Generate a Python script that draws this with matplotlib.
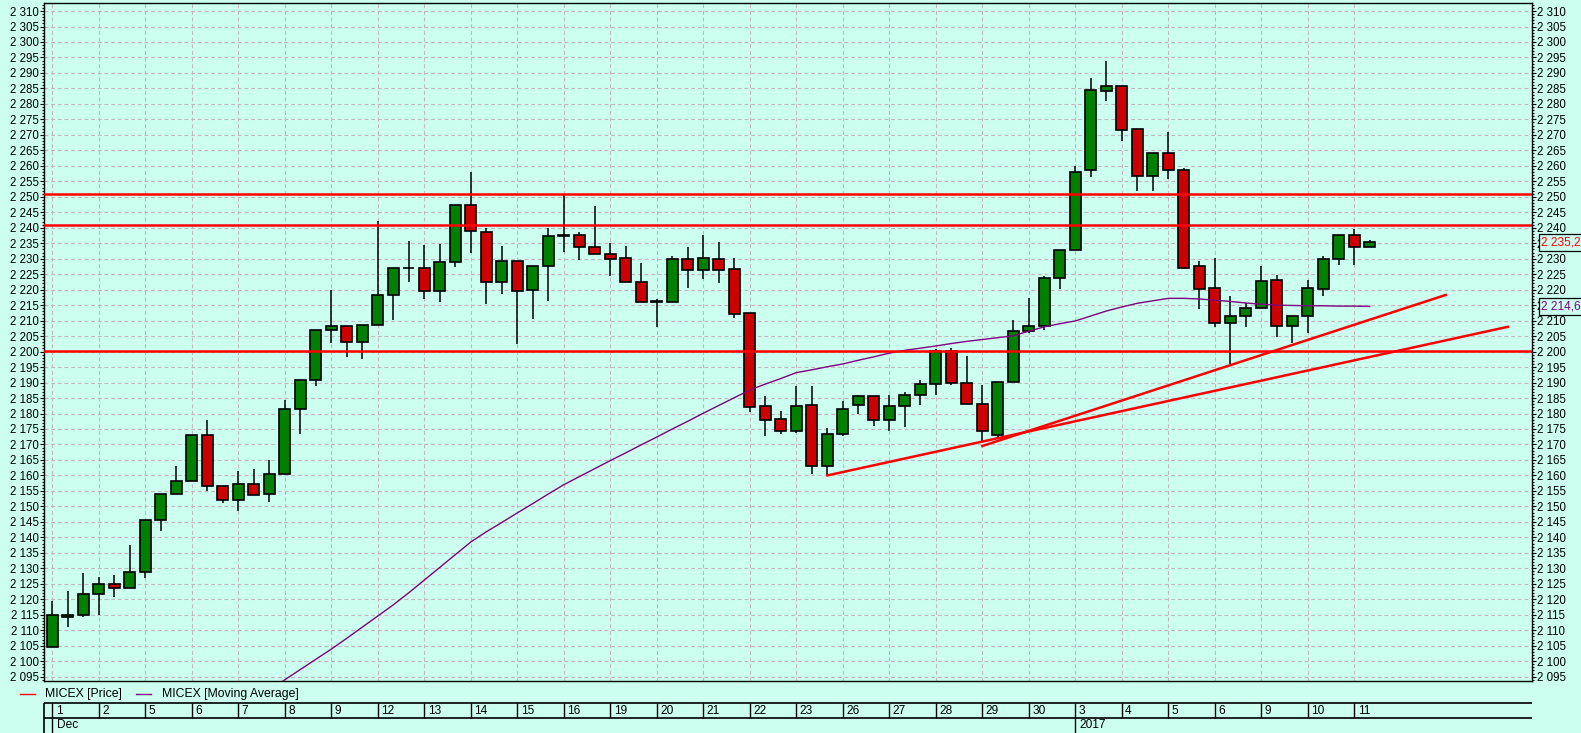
# MICEX candlestick chart, Dec 2016 - Jan 2017
import matplotlib
matplotlib.use('Agg')
import matplotlib.pyplot as plt
from matplotlib.ticker import MultipleLocator, FuncFormatter
from matplotlib.lines import Line2D

# ---- data (3 candles per trading day) ----
opens = [2104.7, 2114.2, 2115.0, 2121.8, 2125.0, 2123.7, 2128.9, 2145.7, 2154.1, 2158.3,
         2173.2, 2156.7, 2152.2, 2157.3, 2154.1, 2160.6, 2181.6, 2190.9, 2207.1, 2208.2,
         2203.0, 2208.5, 2218.2, 2226.9, 2226.9, 2219.5, 2228.8, 2247.3, 2238.5, 2222.4,
         2229.2, 2219.8, 2227.6, 2237.2, 2237.6, 2233.7, 2231.4, 2230.1, 2222.4, 2216.1,
         2216.1, 2229.8, 2226.5, 2229.8, 2226.6, 2212.4, 2182.3, 2178.1, 2174.5, 2182.7,
         2162.9, 2173.3, 2182.6, 2185.6, 2177.8, 2182.3, 2185.9, 2189.5, 2200.3, 2189.9,
         2183.0, 2172.9, 2190.3, 2206.5, 2208.2, 2223.7, 2232.7, 2258.6, 2284.3, 2285.7,
         2271.8, 2256.8, 2264.0, 2258.6, 2227.6, 2220.5, 2209.1, 2211.4, 2214.0, 2223.0,
         2208.2, 2211.4, 2220.1, 2229.8, 2237.6, 2233.7]
highs = [2119.3, 2122.8, 2128.4, 2127.2, 2127.7, 2137.4, 2145.7, 2154.1, 2162.9, 2173.2,
         2177.8, 2156.7, 2161.3, 2162.2, 2164.9, 2184.3, 2190.9, 2207.1, 2219.8, 2208.2,
         2208.5, 2242.2, 2226.9, 2235.7, 2234.4, 2234.8, 2247.3, 2258.0, 2239.8, 2234.1,
         2229.2, 2227.6, 2239.8, 2250.7, 2238.6, 2247.0, 2235.0, 2234.0, 2228.5, 2216.9,
         2230.9, 2233.9, 2237.5, 2235.4, 2230.2, 2212.4, 2185.7, 2180.8, 2188.9, 2188.9,
         2175.2, 2184.1, 2186.0, 2185.6, 2186.0, 2187.0, 2190.9, 2200.9, 2201.2, 2198.6,
         2189.2, 2190.1, 2210.2, 2217.3, 2224.4, 2232.7, 2260.0, 2288.4, 2293.9, 2285.7,
         2271.8, 2264.0, 2270.9, 2259.3, 2229.3, 2230.2, 2218.0, 2215.6, 2227.7, 2224.8,
         2211.4, 2223.1, 2230.8, 2237.6, 2239.6, 2236.1]
lows = [2104.7, 2111.2, 2114.2, 2114.8, 2120.7, 2123.7, 2127.0, 2142.0, 2154.1, 2158.3,
        2155.0, 2151.1, 2148.5, 2153.8, 2151.4, 2160.6, 2173.4, 2188.9, 2202.8, 2198.4,
        2197.7, 2208.5, 2210.2, 2222.6, 2217.1, 2216.1, 2227.4, 2232.0, 2215.5, 2218.7,
        2202.6, 2210.5, 2216.5, 2232.3, 2229.7, 2231.4, 2224.5, 2222.4, 2215.9, 2207.9,
        2216.1, 2220.7, 2223.5, 2222.3, 2211.0, 2180.5, 2172.6, 2173.4, 2173.8, 2160.6,
        2160.0, 2172.6, 2180.0, 2176.1, 2174.2, 2175.8, 2182.9, 2186.1, 2189.3, 2183.0,
        2170.9, 2172.0, 2190.3, 2206.0, 2207.1, 2220.3, 2232.7, 2256.5, 2281.1, 2268.1,
        2252.0, 2252.0, 2255.9, 2226.8, 2213.9, 2208.1, 2196.0, 2207.8, 2214.0, 2204.8,
        2202.7, 2206.1, 2217.8, 2228.1, 2228.1, 2233.7]
closes = [2114.8, 2115.0, 2121.8, 2125.0, 2123.7, 2128.9, 2145.7, 2154.1, 2158.3, 2173.2,
          2156.6, 2152.2, 2157.3, 2153.8, 2160.6, 2181.6, 2190.9, 2207.1, 2208.4, 2203.0,
          2208.5, 2218.2, 2226.9, 2226.9, 2219.5, 2228.8, 2247.3, 2238.9, 2222.6, 2229.2,
          2219.5, 2227.6, 2237.2, 2237.6, 2233.7, 2231.4, 2229.8, 2222.4, 2215.9, 2216.3,
          2229.8, 2226.5, 2230.1, 2226.5, 2212.3, 2182.2, 2178.0, 2174.5, 2182.3, 2162.9,
          2173.3, 2181.4, 2185.6, 2177.8, 2182.3, 2185.9, 2189.5, 2200.3, 2189.7, 2183.0,
          2174.2, 2190.1, 2206.6, 2208.2, 2223.7, 2232.7, 2257.9, 2284.4, 2285.7, 2271.5,
          2256.8, 2264.0, 2258.8, 2227.1, 2220.3, 2209.1, 2211.4, 2214.0, 2222.7, 2208.2,
          2211.4, 2220.5, 2229.8, 2237.6, 2233.7, 2235.27]

# moving average (starts at candle 14, earlier part below the chart)
ma_start = 14
ma_values = [2090.7, 2094.0, 2097.3, 2100.6, 2103.9, 2107.4, 2111.0, 2114.6, 2118.2, 2122.1,
             2126.2, 2130.3, 2134.4, 2138.5, 2141.8, 2144.8, 2147.9, 2150.9, 2154.0, 2157.0,
             2159.6, 2162.2, 2164.8, 2167.3, 2169.9, 2172.4, 2175.0, 2177.5, 2180.1, 2182.6,
             2185.1, 2187.6, 2189.5, 2191.3, 2193.2, 2194.1, 2195.1, 2196.0, 2197.2, 2198.3,
             2199.5, 2200.4, 2201.1, 2201.8, 2202.6, 2203.3, 2203.9, 2204.5, 2205.1, 2206.6,
             2208.0, 2209.0, 2209.9, 2211.5, 2213.1, 2214.4, 2215.6, 2216.4, 2217.2, 2217.2,
             2217.0, 2216.6, 2216.2, 2215.7, 2215.3, 2215.0, 2214.9, 2214.8, 2214.8, 2214.7,
             2214.7, 2214.62]

# horizontal levels and trend lines (candle index, price)
levels = [2251.0, 2241.0, 2200.3]
trend_lines = [(50, 2160.0, 93.9, 2208.0),
               (60, 2169.5, 89.9, 2218.3)]

# day labels, one per 3 candles
days = ['1', '2', '5', '6', '7', '8', '9', '12', '13', '14', '15', '16', '19', '20', '21',
        '22', '23', '26', '27', '28', '29', '30', '3', '4', '5', '6', '9', '10', '11']
months = [('Dec', 0), ('2017', 22)]   # label, index of first day

bg = '#ccfff0'
grid_c = '#c4b8bc'
W, H = 1581, 733

plt.rcParams['font.family'] = ['Liberation Sans', 'DejaVu Sans']
fig = plt.figure(figsize=(W / 100, H / 100), dpi=100, facecolor=bg)

L, R, T, B = 44.3, 1532, 3.3, 681
ax = fig.add_axes([L / W, 1 - B / H, (R - L) / W, (B - T) / H])
ax.set_facecolor(bg)
x0 = (L - 52.3) / 15.5
x1 = (R - 52.3) / 15.5
ax.set_xlim(x0, x1)
ax.set_ylim(2093.6, 2312.5)

# grid
for v in range(2095, 2311, 5):
    ax.axhline(v, color=grid_c, lw=0.8, dashes=(3.5, 2.5), zorder=0)
for k in range(len(days)):
    ax.axvline(3 * k, color=grid_c, lw=0.8, dashes=(3.5, 2.5), zorder=0)

# candles
n = len(opens)
idx = list(range(n))
ax.vlines(idx, lows, highs, color='black', lw=1.1, zorder=2)
bottoms = [min(o, c) for o, c in zip(opens, closes)]
heights = [abs(c - o) for o, c in zip(opens, closes)]
cols = ['#008000' if c >= o else '#cc0000' for o, c in zip(opens, closes)]
ax.bar(idx, heights, bottom=bottoms, width=0.7, color=cols, edgecolor='black',
       linewidth=1.2, zorder=3)

# moving average
ax.plot(range(ma_start, ma_start + len(ma_values)), ma_values, color='#800080', lw=1.0, zorder=4)

# red levels and trend lines
for lv in levels:
    ax.axhline(lv, color='#ff0000', lw=1.8, zorder=5)
for xa, ya, xb, yb in trend_lines:
    ax.plot([xa, xb], [ya, yb], color='#ff0000', lw=1.8, zorder=5)

# axes / ticks
for s in ax.spines.values():
    s.set_linewidth(1.0)
ax.set_xticks([])
ax.yaxis.set_major_locator(MultipleLocator(5))
ax.yaxis.set_minor_locator(MultipleLocator(1))
ax.yaxis.set_major_formatter(FuncFormatter(lambda v, p: f'{int(round(v)):,}'.replace(',', ' ')))
ax.yaxis.set_ticks_position('both')
ax.tick_params(axis='y', which='major', length=3.2, width=0.8, labelsize=8.3,
               labelleft=True, labelright=True, pad=0.5)
ax.tick_params(axis='y', which='minor', length=1.6, width=0.8)

# last values on the right (boxes cover the tick labels behind them)
tr = ax.get_yaxis_transform()
ax.text(1.006, closes[-1], '2 235,27', transform=tr, color='#ff0000', fontsize=8.6,
        ha='left', va='center', clip_on=False, zorder=20,
        bbox=dict(boxstyle='square,pad=0.2', fc=bg, ec='black', lw=0.9))
ax.text(1.006, ma_values[-1], '2 214,62', transform=tr, color='#800080', fontsize=8.6,
        ha='left', va='center', clip_on=False, zorder=20,
        bbox=dict(boxstyle='square,pad=0.2', fc=bg, ec='black', lw=0.9))

# legend
ly = 1 - 694 / H
fig.add_artist(Line2D([20 / W, 35 / W], [ly, ly], color='#ff0000', lw=1.0))
fig.text(45 / W, ly, 'MICEX [Price]', fontsize=8.8, va='center', ha='left')
fig.add_artist(Line2D([136 / W, 151 / W], [ly, ly], color='#800080', lw=1.0))
fig.text(162 / W, ly, 'MICEX [Moving Average]', fontsize=8.8, va='center', ha='left')

# date header below the chart
hx = fig.add_axes([L / W, 0, (R - L) / W, 30 / H])
hx.set_xlim(x0, x1)
hx.set_ylim(0, 2)
hx.axis('off')
hx.hlines([1, 2], x0, x1, color='black', lw=1.2, clip_on=False)
hx.vlines([x0], 0, 2, color='black', lw=1.2, clip_on=False)
for k, d in enumerate(days):
    hx.vlines(3 * k, 1, 2, color='black', lw=1.0)
    hx.text(3 * k + 0.22, 1.5, d, fontsize=8.6, ha='left', va='center')
for m, k in months:
    hx.vlines(3 * k, 0, 1, color='black', lw=1.0)
    hx.text(3 * k + 0.28, 0.5, m, fontsize=8.6, ha='left', va='center')

fig.savefig('out.png', dpi=100, facecolor=bg)
